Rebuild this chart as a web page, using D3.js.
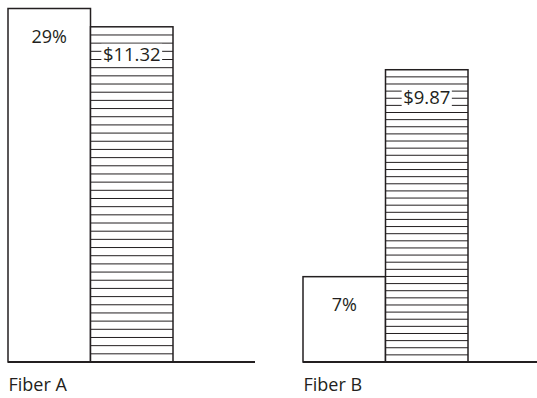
<!DOCTYPE html>
<html>
<head>
<meta charset="utf-8">
<script src="https://cdn.jsdelivr.net/npm/d3@7"></script>
<style>
  html, body { margin: 0; padding: 0; background: #fff; }
  svg { display: block; }
  text { font-family: "Open Sans", "Noto Sans", sans-serif; fill: #231f20; }
</style>
</head>
<body>
<svg id="chart" width="537" height="398"></svg>
<script>
const categories = ["Fiber A", "Fiber B"];
const percentValues = [29, 7];
const costValues = [11.32, 9.87];
const percentLabels = ["29%", "7%"];
const costLabels = ["$11.32", "$9.87"];
const hatchCount = 41;

const W = 537, H = 398;
const baseY = 362;
const svg = d3.select("#chart");

const x = d3.scaleBand().domain(categories).range([8, 8 + 295 * 2]);
const barW = 82.5;
const yPct = d3.scaleLinear().domain([0, 29]).range([baseY, 8.5]);
const yCost = d3.scaleLinear().domain([0, 11.32]).range([baseY, 26.8]);

const data = categories.map((c, i) => ({
  cat: c, pct: percentValues[i], cost: costValues[i],
  pctLabel: percentLabels[i], costLabel: costLabels[i]
}));

const stroke = "#231f20";
const fs = 18;

const g = svg.selectAll("g.group").data(data).join("g").attr("class", "group");

// white percentage bars
g.append("rect")
  .attr("x", d => x(d.cat))
  .attr("y", d => yPct(d.pct))
  .attr("width", barW)
  .attr("height", d => baseY - yPct(d.pct))
  .attr("fill", "#fff")
  .attr("stroke", stroke)
  .attr("stroke-width", 1.5);

// hatched cost bars
g.each(function(d) {
  const gg = d3.select(this);
  const x0 = x(d.cat) + barW;
  const top = yCost(d.cost);
  const h = baseY - top;
  gg.append("rect")
    .attr("x", x0).attr("y", top)
    .attr("width", barW).attr("height", h)
    .attr("fill", "#fff");
  const lines = d3.range(1, hatchCount);
  gg.selectAll("line.hatch").data(lines).join("line")
    .attr("class", "hatch")
    .attr("x1", x0).attr("x2", x0 + barW)
    .attr("y1", i => top + i * h / hatchCount)
    .attr("y2", i => top + i * h / hatchCount)
    .attr("stroke", "#231f20")
    .attr("stroke-width", 1);
  gg.append("rect")
    .attr("x", x0).attr("y", top)
    .attr("width", barW).attr("height", h)
    .attr("fill", "none")
    .attr("stroke", stroke)
    .attr("stroke-width", 1.5);

  // cost label with white box
  const t = gg.append("text")
    .attr("x", x0 + barW / 2)
    .attr("y", top + 34)
    .attr("text-anchor", "middle")
    .attr("font-size", fs + 0.5)
    .text(d.costLabel);
  const bb = t.node().getBBox();
  gg.insert("rect", "text")
    .attr("x", bb.x - 1.5).attr("y", bb.y + 3)
    .attr("width", bb.width + 3).attr("height", bb.height - 5)
    .attr("fill", "#fff");

  // percent label
  gg.append("text")
    .attr("x", x(d.cat) + barW / 2)
    .attr("y", yPct(d.pct) + 34)
    .attr("text-anchor", "middle")
    .attr("font-size", fs)
    .text(d.pctLabel);
});

// baselines
svg.selectAll("line.base").data(data).join("line")
  .attr("class", "base")
  .attr("x1", d => x(d.cat))
  .attr("x2", (d, i) => i === data.length - 1 ? W : x(d.cat) + 247)
  .attr("y1", baseY).attr("y2", baseY)
  .attr("stroke", stroke)
  .attr("stroke-width", 1.8);

// category labels
svg.selectAll("text.cat").data(data).join("text")
  .attr("class", "cat")
  .attr("x", d => x(d.cat) + 0.5)
  .attr("y", 391)
  .attr("font-size", fs)
  .text(d => d.cat);
</script>
</body>
</html>
